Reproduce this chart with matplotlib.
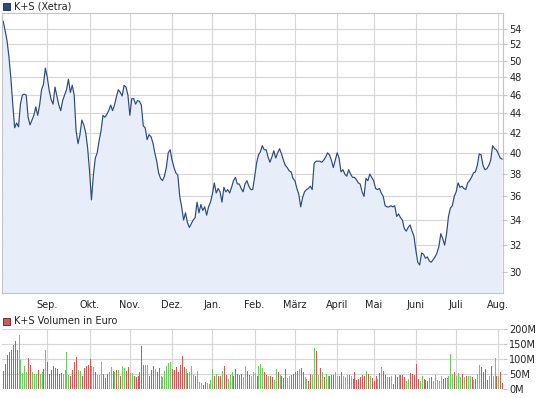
import numpy as np
import pandas as pd
import matplotlib
matplotlib.use("Agg")
import matplotlib.pyplot as plt
from matplotlib.ticker import FixedLocator, NullLocator, FuncFormatter
from matplotlib.patches import Rectangle

# trading days (Xetra), Aug 2011 - Aug 2012
holidays = ["2011-12-26", "2012-04-06", "2012-04-09", "2012-05-01"]
dates = pd.bdate_range("2011-08-01", "2012-08-03", freq="C", holidays=holidays)

month_labels = ["Sep.", "Okt.", "Nov.", "Dez.", "Jan.", "Feb.", "März",
                "April", "Mai", "Juni", "Juli", "Aug."]

# K+S closing price (EUR)
price = [
    55.0, 53.8, 52.5, 50.5, 48.0, 45.0, 42.5, 43.0, 42.6, 45.0,
    46.0, 46.1, 46.0, 43.6, 42.8, 43.3, 43.8, 44.7, 43.8, 44.9,
    46.6, 47.2, 49.1, 48.0, 46.5, 45.5, 45.0, 46.9, 45.9, 44.9,
    44.3, 45.4, 46.0, 46.6, 47.8, 46.3, 47.1, 46.0, 42.2, 40.9,
    41.8, 43.3, 42.8, 42.0, 40.5, 38.3, 35.7, 37.9, 39.5, 40.0,
    41.2, 42.2, 43.8, 43.6, 43.9, 44.3, 44.9, 44.3, 44.9, 45.8,
    46.6, 46.3, 45.9, 47.1, 46.9, 46.0, 43.8, 45.6, 45.6, 45.0,
    45.4, 45.3, 44.9, 42.7, 42.5, 41.3, 41.8, 41.6, 41.0, 40.0,
    39.2, 38.1, 37.6, 37.4, 37.8, 38.6, 40.0, 40.3, 39.3, 38.6,
    38.1, 37.9, 36.0, 35.1, 34.0, 34.6, 33.8, 33.4, 33.7, 34.0,
    34.2, 35.5, 34.6, 35.3, 34.8, 35.1, 34.4, 35.1, 35.5, 36.2,
    37.2, 36.3, 36.7, 36.4, 35.5, 36.8, 36.4, 36.6, 36.3, 36.8,
    37.4, 37.7, 37.1, 37.1, 36.7, 36.4, 37.1, 37.4, 36.9, 36.6,
    36.6, 37.7, 39.0, 39.8, 40.1, 40.7, 40.3, 40.3, 39.6, 39.1,
    39.6, 40.2, 39.5, 40.0, 40.4, 39.9, 39.3, 38.8, 38.6, 38.3,
    38.2, 37.6, 37.4, 36.7, 36.2, 35.1, 35.9, 36.4, 36.6, 36.7,
    36.9, 36.6, 39.0, 39.2, 39.2, 39.2, 39.1, 39.3, 39.6, 40.0,
    39.8, 39.3, 38.6, 39.3, 40.0, 39.5, 38.2, 38.4, 38.0, 37.8,
    38.4, 38.0, 37.7, 37.7, 37.5, 37.2, 37.1, 36.4, 36.0, 37.6,
    37.4, 38.0, 37.7, 37.4, 36.7, 36.6, 36.7, 36.3, 36.0, 35.2,
    35.1, 35.1, 35.2, 35.1, 35.2, 34.3, 34.5, 34.2, 34.0, 33.3,
    33.1, 33.4, 33.6, 33.1, 32.7, 31.6, 30.7, 30.5, 31.4, 31.3,
    31.0, 31.1, 30.8, 30.7, 30.9, 31.1, 31.4, 31.9, 32.9, 32.5,
    32.0, 32.9, 34.3, 35.0, 35.2, 36.0, 36.4, 37.2, 36.8, 36.9,
    36.7, 36.6, 37.2, 37.4, 37.7, 38.1, 38.2, 38.8, 39.9, 39.8,
    38.8, 38.4, 38.5, 38.8, 39.3, 40.7, 40.4, 40.3, 39.9, 39.5,
    39.4,
]

# daily turnover in million EUR
volume = [
    61, 83, 113, 124, 131, 147, 161, 131, 181, 98,
    53, 76, 58, 102, 80, 58, 50, 50, 64, 50,
    56, 67, 131, 91, 50, 64, 78, 69, 67, 50,
    53, 50, 64, 124, 47, 42, 64, 91, 106, 63,
    61, 44, 69, 78, 80, 100, 78, 72, 58, 47,
    47, 89, 50, 36, 50, 58, 72, 61, 56, 64,
    64, 42, 76, 69, 61, 72, 53, 53, 44, 39,
    44, 56, 144, 80, 80, 80, 42, 64, 78, 67,
    58, 69, 44, 39, 61, 78,
    87, 89, 67, 64, 72, 58, 80, 111, 72, 67,
    53, 58, 76, 47, 44, 61, 24, 20, 13, 24,
    20, 17, 31, 67, 42, 50, 44, 42, 61, 76,
    47, 33, 47, 56, 42, 67, 50, 47, 50, 39,
    78, 61, 47, 44, 56, 52, 45, 76, 83, 69,
    56, 47, 44, 44, 39, 31, 67, 58, 47, 42,
    36, 67, 36, 44, 47, 50, 56, 61, 67, 69,
    58, 39, 33, 28, 50, 47, 136, 128, 47, 69,
    56, 39, 50, 44, 42, 47, 47, 56,
    42, 44, 58, 44, 39, 47, 47, 44, 33, 58,
    31, 33, 39, 47, 42, 61, 50, 42, 36, 28,
    44, 33, 53, 72, 61, 47, 39, 39, 44, 17,
    47, 39, 47, 47, 47, 39, 28, 33, 53, 50,
    47, 83, 33, 28, 44, 33, 31, 28, 36, 39,
    28, 47, 31, 28, 44, 33, 36, 36, 44, 117,
    50, 58, 44, 53, 39, 50, 39, 44, 42, 44,
    39, 31, 33, 50, 80, 72, 56, 67, 31, 44,
    76, 42, 102, 44, 44, 58, 19,
]

# g = up day, r = down day
direction = ("rrrrrrrrgg" "gggrrgggrg" "grgrrrrrrr" "rggggrrrrg" "grrrrrggrg"
             "ggrrrggrgr" "grggrrggrr" "rrrrggrrrg" "rrgggg"
             "ggrrrrrrrg" "rgggrgggrr" "ggggrgrrgr" "rgggrrrrrg" "grrgggrggg"
             "rrgrrggrgr" "rrggrrrrgr" "rggrrggrgr" "grggrrrg"
             "grrgggrgrr" "rrrrrgrgrr" "rgrgrrgrgr" "rrgrrrggrr" "rrrggrrrgr"
             "gggggrrggg" "grgggrgrgg" "rgrggrrrrg" "rggrgrr")

x = np.arange(len(dates))
months = pd.Series(x, index=dates).groupby([dates.year, dates.month]).first()
month_pos = months.values[1:]

line_col = "#2c4a7c"
fill_col = "#e7eef9"
grid_col = "#d6d6d6"
frame_col = "#c4c4c4"
red = "#cc5a5a"
green = "#70c862"
fs = 7

fig = plt.figure(figsize=(5.45, 3.98), dpi=100)
W, H = 545.0, 398.0

# price panel
ax = fig.add_axes([2 / W, 1 - 293 / H, 501 / W, 280 / H])
ax.fill_between(x, price, 1, color=fill_col, lw=0)
ax.plot(x, price, color=line_col, lw=0.85)
ax.set_yscale("log")
ax.set_ylim(28.5, 56.1)
ax.set_xlim(-0.6, 260.4)
yt = list(range(30, 55, 2))
ax.yaxis.set_major_locator(FixedLocator(yt))
ax.yaxis.set_minor_locator(NullLocator())
ax.yaxis.set_major_formatter(FuncFormatter(lambda v, p: "%d" % v))
ax.yaxis.tick_right()
ax.set_xticks(month_pos)
ax.set_xticklabels(month_labels)
ax.grid(True, color=grid_col, lw=0.8)
ax.set_axisbelow(True)
ax.tick_params(axis="y", length=3, color=frame_col, labelsize=fs, pad=1.5, labelcolor="#222222")
ax.tick_params(axis="x", length=0, labelsize=fs, pad=5, labelcolor="#222222")
for s in ax.spines.values():
    s.set_color(frame_col)
    s.set_linewidth(0.8)

# volume panel
vx = fig.add_axes([2 / W, 1 - 389 / H, 501 / W, 60 / H])
cols = [green if d == "g" else red for d in direction]
vx.vlines(x, 0, volume, colors=cols, lw=0.72, antialiased=False)
vx.set_xlim(-0.6, 260.4)
vx.set_ylim(0, 200)
vx.set_yticks([0, 50, 100, 150, 200])
vx.set_yticklabels(["0M", "50M", "100M", "150M", "200M"])
vx.yaxis.tick_right()
vx.set_xticks(month_pos)
vx.set_xticklabels([])
vx.grid(True, color=grid_col, lw=0.8)
vx.set_axisbelow(True)
vx.tick_params(axis="y", length=3, color=frame_col, labelsize=fs, pad=1.5, labelcolor="#222222")
vx.tick_params(axis="x", length=0)
for s in vx.spines.values():
    s.set_visible(False)

# legends
fig.patches.append(Rectangle((3 / W, 1 - 10 / H), 7 / W, 7 / H, transform=fig.transFigure,
                             facecolor=line_col, edgecolor="#1a2a44", lw=0.6))
fig.text(14 / W, 1 - 6.5 / H, "K+S (Xetra)", fontsize=fs, va="center", color="#222222")
fig.patches.append(Rectangle((3 / W, 1 - 325 / H), 7 / W, 7 / H, transform=fig.transFigure,
                             facecolor=red, edgecolor="#5a2020", lw=0.6))
fig.text(14 / W, 1 - 321.5 / H, "K+S Volumen in Euro", fontsize=fs, va="center", color="#222222")

fig.savefig("out.png", dpi=100)
